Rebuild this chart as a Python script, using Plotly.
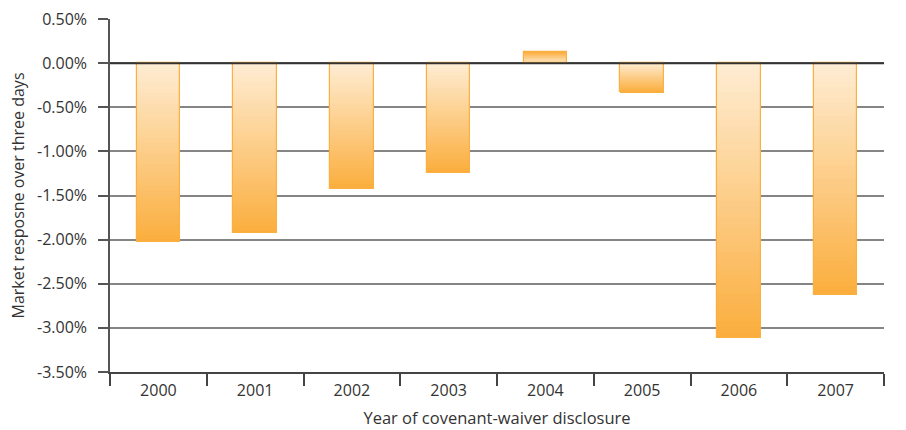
import plotly.graph_objects as go

# Three-day market response to covenant-waiver disclosures, by year
years = ["2000", "2001", "2002", "2003", "2004", "2005", "2006", "2007"]
response_pct = [-2.03, -1.93, -1.43, -1.24, 0.13, -0.33, -3.12, -2.63]

y_tick_vals = [0.5, 0.0, -0.5, -1.0, -1.5, -2.0, -2.5, -3.0, -3.5]
y_tick_text = ["0.50%", "0.00%", "-0.50%", "-1.00%", "-1.50%", "-2.00%", "-2.50%", "-3.00%", "-3.50%"]

LIGHT = (254, 236, 210)
DARK = (251, 174, 62)
N_STEPS = 48
BAR_WIDTH = 0.45
FONT = "Open Sans"
TEXT = "#333333"


def blend(t):
    r, g, b = (round(a + (c - a) * t) for a, c in zip(LIGHT, DARK))
    return f"rgb({r},{g},{b})"


fig = go.Figure()

# Each bar is built from equal slices stacked outward from zero, shaded
# from pale at the baseline to full orange at the bar's end.
for i in range(N_STEPS):
    fig.add_trace(go.Bar(
        x=years,
        y=[v / N_STEPS for v in response_pct],
        width=BAR_WIDTH,
        marker=dict(color=blend(i / (N_STEPS - 1)), line=dict(width=0)),
        hoverinfo="skip",
        showlegend=False,
    ))

# Outline of the full bars, on an overlaid axis pair so it is not stacked
fig.add_trace(go.Bar(
    x=years,
    y=response_pct,
    width=BAR_WIDTH,
    xaxis="x2",
    yaxis="y2",
    marker=dict(color="rgba(0,0,0,0)", line=dict(color="#fbb040", width=1.2)),
    showlegend=False,
))

fig.update_layout(
    width=906,
    height=430,
    margin=dict(l=110, r=22, t=19, b=58),
    paper_bgcolor="white",
    plot_bgcolor="white",
    barmode="relative",
    bargap=0,
    font=dict(family=FONT, size=16, color=TEXT),
    xaxis=dict(
        type="category",
        categoryorder="array",
        categoryarray=years,
        range=[-0.5, 7.5],
        automargin=False,
        showline=True,
        linecolor="#444444",
        linewidth=1.5,
        ticks="outside",
        tickson="boundaries",
        ticklen=12,
        tickwidth=1.5,
        tickcolor="#444444",
        showgrid=False,
        tickfont=dict(size=16, color=TEXT),
        ticklabelstandoff=3,
        title=dict(text="Year of covenant-waiver disclosure",
                   font=dict(size=16.5, color=TEXT), standoff=12),
    ),
    yaxis=dict(
        range=[-3.5, 0.5],
        tickvals=y_tick_vals,
        ticktext=y_tick_text,
        automargin=False,
        showline=True,
        linecolor="#555555",
        linewidth=1.5,
        ticks="outside",
        ticklen=10,
        tickwidth=1.5,
        tickcolor="#555555",
        showgrid=True,
        gridcolor="#858585",
        gridwidth=1.5,
        zeroline=False,
        tickfont=dict(size=16, color=TEXT),
        ticklabelstandoff=8,
        title=dict(text="Market resposne over three days",
                   font=dict(size=16, color=TEXT), standoff=8),
    ),
    xaxis2=dict(
        type="category",
        categoryorder="array",
        categoryarray=years,
        range=[-0.5, 7.5],
        overlaying="x",
        visible=False,
    ),
    yaxis2=dict(
        range=[-3.5, 0.5],
        overlaying="y",
        visible=False,
    ),
    shapes=[dict(
        type="line", xref="x domain", yref="y",
        x0=0, x1=1, y0=0, y1=0,
        line=dict(color="#333333", width=2),
        layer="above",
    )],
)

fig.write_html("out.html")
